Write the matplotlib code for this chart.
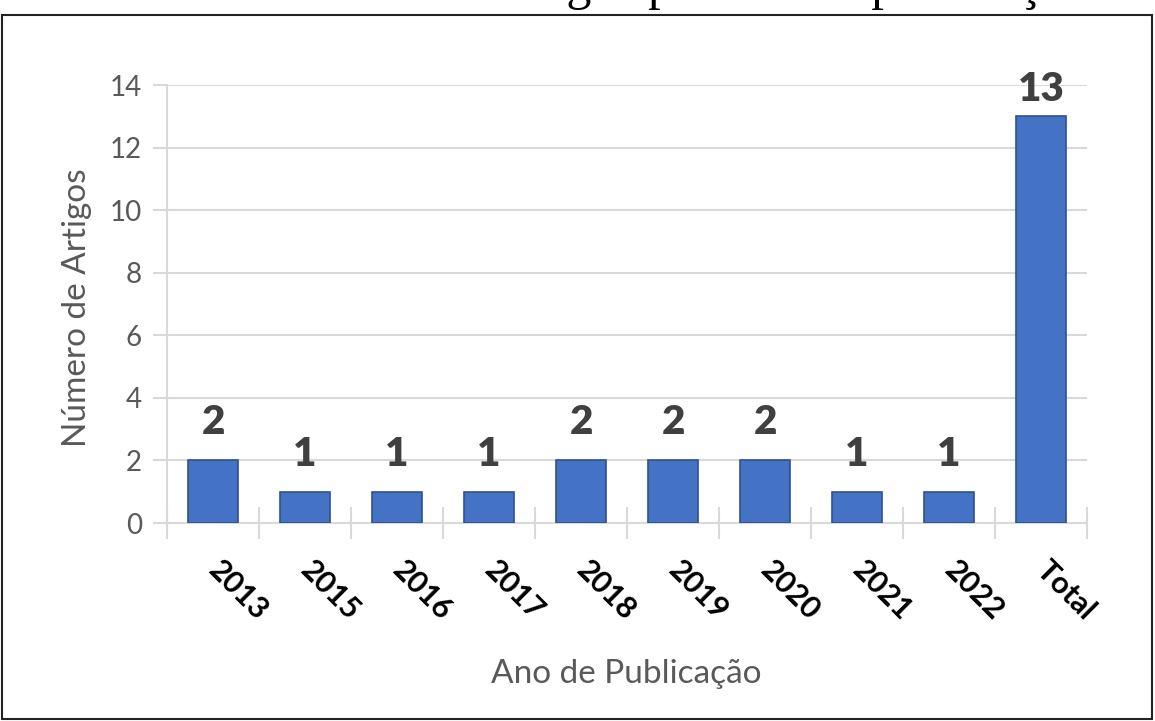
import matplotlib
matplotlib.use("Agg")
import matplotlib.pyplot as plt
from matplotlib.patches import Rectangle

# ---- data ----
categories = ["2013", "2015", "2016", "2017", "2018", "2019", "2020", "2021", "2022", "Total"]
values = [2, 1, 1, 1, 2, 2, 2, 1, 1, 13]
yticks = [0, 2, 4, 6, 8, 10, 12, 14]
title_text = "Número de artigos por ano de publicação"
xlabel_text = "Ano de Publicação"
ylabel_text = "Número de Artigos"

plt.rcParams['font.family'] = ['Lato', 'DejaVu Sans']

W, H = 1155, 721
fig = plt.figure(figsize=(W / 100, H / 100), dpi=100)
fig.patch.set_facecolor('white')

# plot area in pixel coordinates (from top-left): x 167..1087, y 85..523
L, R, T, B = 167, 1087, 85, 523
ax = fig.add_axes([L / W, (H - B) / H, (R - L) / W, (B - T) / H])

x = list(range(len(categories)))
ax.bar(x, values, width=0.54, color="#4472C4", edgecolor="#2F528F",
       linewidth=1.2, zorder=3)

ax.set_xlim(-0.5, len(categories) - 0.5)
ax.set_ylim(yticks[0], yticks[-1])
ax.set_yticks(yticks)
ax.grid(axis='y', color='#D9D9D9', linewidth=1.5, zorder=0)
ax.set_axisbelow(True)
for s in ['top', 'right']:
    ax.spines[s].set_visible(False)
for s in ['left', 'bottom']:
    ax.spines[s].set_color('#D9D9D9')
    ax.spines[s].set_linewidth(1.5)

ax.tick_params(axis='y', direction='out', length=10, width=1.5, color='#D9D9D9',
               labelcolor='#595959', labelsize=20, pad=8)

ax.set_xticks(x)
ax.set_xticklabels(categories, rotation=-45, ha='left', va='center',
                   rotation_mode='anchor', fontweight='bold', fontsize=22,
                   color='black')
ax.tick_params(axis='x', which='major', length=0, pad=31)
ax.set_xticks([i - 0.5 for i in range(len(categories) + 1)], minor=True)
ax.tick_params(axis='x', which='minor', direction='inout', length=23,
               width=1.5, color='#D9D9D9')

# data labels
px_per_unit = (B - T) / (yticks[-1] - yticks[0])
for i, v in zip(x, values):
    yb = min(v + 26 / px_per_unit, yticks[-1] - 16 / px_per_unit)
    ax.text(i, yb, str(v), ha='center', va='baseline', fontsize=29,
            fontweight='heavy', color='#404040', clip_on=False, zorder=4)

# axis titles
fig.text(626.5 / W, 1 - 683 / H, xlabel_text, ha='center', va='baseline',
         fontsize=24, color='#595959')
fig.text(77 / W, 1 - 308 / H, ylabel_text, ha='center', va='center',
         rotation=90, fontsize=24, color='#595959')

# frame around the chart
fig.patches.append(Rectangle((2 / W, 2 / H), 1150 / W, 704 / H, fill=False,
                             edgecolor='#222222', linewidth=1.5,
                             transform=fig.transFigure, figure=fig))

# caption above the frame, cut by the top edge as in the source image
fig.text(264 / W, 1 + 1 / H, title_text, ha='left', va='baseline',
         fontsize=36, family='Liberation Serif', color='black')

fig.savefig("out.png", dpi=100)
